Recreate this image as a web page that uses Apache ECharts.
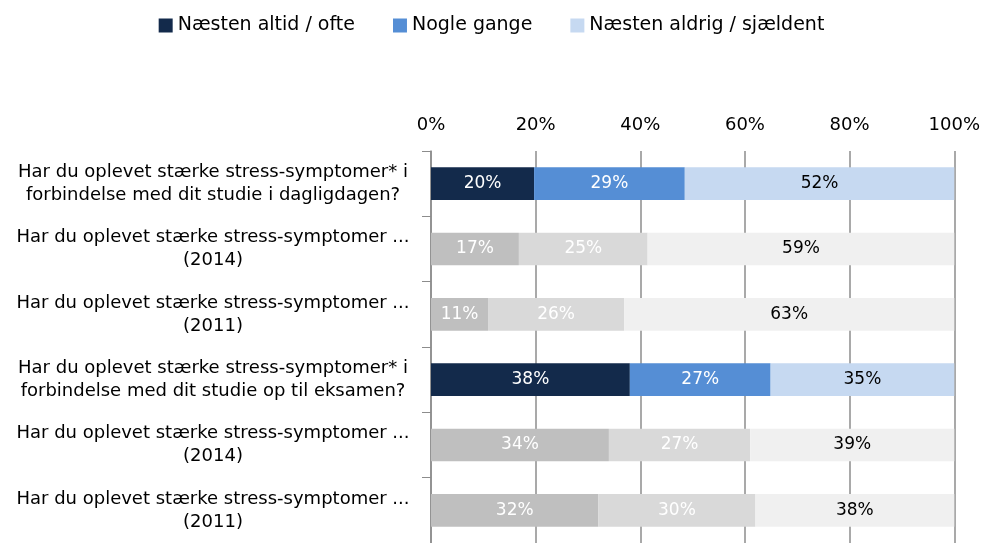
<!DOCTYPE html>
<html>
<head>
<meta charset="utf-8">
<script src="https://cdn.jsdelivr.net/npm/echarts@6/dist/echarts.min.js"></script>
<style>
html,body{margin:0;padding:0;background:#fff;}
#main{width:983px;height:543px;}
</style>
</head>
<body>
<div id="main"></div>
<script>
// kategorier (spørgsmål) fra top til bund
var categories=[
    "Har du oplevet stærke stress-symptomer* i\nforbindelse med dit studie i dagligdagen?",
    "Har du oplevet stærke stress-symptomer ...\n(2014)",
    "Har du oplevet stærke stress-symptomer ...\n(2011)",
    "Har du oplevet stærke stress-symptomer* i\nforbindelse med dit studie op til eksamen?",
    "Har du oplevet stærke stress-symptomer ...\n(2014)",
    "Har du oplevet stærke stress-symptomer ...\n(2011)"
];
var seriesNames=["Næsten altid / ofte","Nogle gange","Næsten aldrig / sjældent"];
// andele i procent
var oftenValues=[19.7,16.8,10.9,38.0,34.0,32.0];
var sometimesValues=[28.8,24.6,26.0,26.9,27.0,30.0];
var rarelyValues=[51.5,58.6,63.1,35.1,39.0,38.0];
// hvilke rækker er fremhævet (nuværende år) og hvilke er grå (tidligere år)
var highlighted=[true,false,false,true,false,false];
var xTicks=[0,20,40,60,80,100];

var blueColors=["#132A4B","#558ED5","#C6D9F1"];
var grayColors=["#BFBFBF","#D9D9D9","#F0F0F0"];
var labelColors=["#ffffff","#ffffff","#000000"];

var fontName="'DejaVu Sans', sans-serif";

function buildData(values,idx){
    var data=[];
    for(var i=0;i<values.length;i++){
        data.push({
            value:values[i],
            itemStyle:{color:highlighted[i]?blueColors[idx]:grayColors[idx]}
        });
    }
    return data;
}

function buildSeries(){
    var all=[oftenValues,sometimesValues,rarelyValues];
    var series=[];
    for(var s=0;s<all.length;s++){
        series.push({
            name:seriesNames[s],
            type:"bar",
            stack:"total",
            barWidth:"50%",
            itemStyle:{color:blueColors[s]},
            label:{
                show:true,
                position:"inside",
                color:labelColors[s],
                fontFamily:fontName,
                fontSize:17,
                formatter:function(p){return Math.round(p.value)+"%";}
            },
            emphasis:{disabled:true},
            data:buildData(all[s],s)
        });
    }
    return series;
}

var myChart=echarts.init(document.getElementById("main"));
var option={
    animation:false,
    textStyle:{fontFamily:fontName},
    legend:{
        top:11,
        left:"center",
        itemWidth:14,
        itemHeight:14,
        itemGap:38,
        icon:"rect",
        textStyle:{fontFamily:fontName,fontSize:19,color:"#000"},
        data:seriesNames
    },
    grid:{
        left:431,
        right:28,
        top:151,
        bottom:-4
    },
    xAxis:{
        type:"value",
        position:"top",
        min:0,
        max:100,
        interval:20,
        axisLine:{show:false},
        axisTick:{show:false},
        axisLabel:{
            fontFamily:fontName,
            fontSize:18,
            color:"#000",
            margin:17,
            formatter:function(v){return xTicks.indexOf(v)>=0?v+"%":"";}
        },
        splitLine:{show:true,lineStyle:{color:"#8C8C8C",width:1.5}}
    },
    yAxis:{
        type:"category",
        inverse:true,
        data:categories,
        axisLine:{show:true,lineStyle:{color:"#8C8C8C",width:1.5}},
        axisTick:{show:true,length:9,lineStyle:{color:"#8C8C8C"}},
        axisLabel:{
            fontFamily:fontName,
            fontSize:18,
            color:"#000",
            align:"center",
            margin:218,
            lineHeight:23
        }
    },
    series:buildSeries()
};
myChart.setOption(option);
</script>
</body>
</html>
